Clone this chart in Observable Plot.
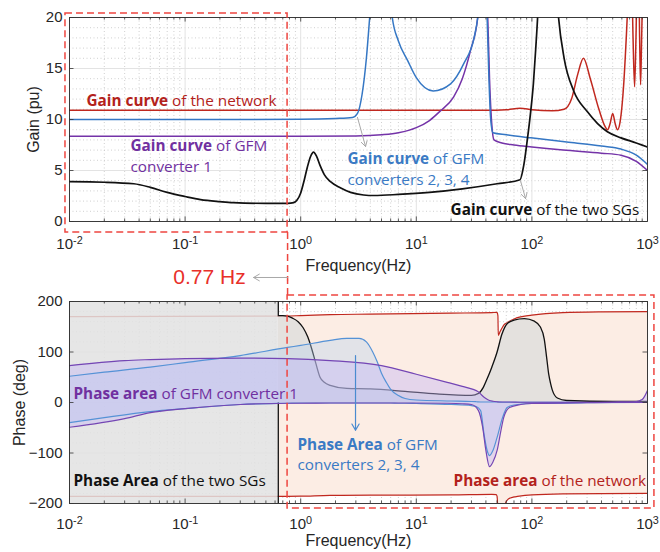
<!DOCTYPE html>
<html><head><meta charset="utf-8">
<script src="https://cdn.jsdelivr.net/npm/d3@7"></script>
<script src="https://cdn.jsdelivr.net/npm/@observablehq/plot@0.6"></script>
<style>
body{margin:0;background:#fff;}
#wrap{position:relative;width:660px;height:552px;overflow:hidden;background:#fff;}
#top,#bot{position:absolute;left:0;}
#top{top:0}
#bot{top:280px}
</style></head><body><div id="wrap"><div id="top"></div><div id="bot"></div></div>
<script>
// ---------- tick labels ----------
const decades = [0.01, 0.1, 1, 10, 100, 1000];
const decadeLabels = ["10^-2", "10^-1", "10^0", "10^1", "10^2", "10^3"];
const gainTicks = [0, 5, 10, 15, 20];
const phaseTicks = [-200, -100, 0, 100, 200];

// ---------- Gain (pu) curves: [frequency Hz, gain] ----------
const gainNetwork = [[0.01,10.9],[1,10.9],[10,10.9],[40,10.9],[60,10.95],[79,11.1],[100,10.95],[150,10.85],[190,11.0],[220,12.0],[250,14.5],[279,16.0],[320,14.0],[380,11.0],[430,9.3],[451,9.0],[475,9.6],[500,10.6],[525,9.6],[550,9.0],[580,9.8],[623,13.5],[655,18],[680,22],[700,26],[730,24],[750,18],[773,13.2],[795,18],[815,24],[840,24],[855,18],[871,13.4],[890,18],[915,24],[1000,26]];
const gainGFM234 = [[0.01,10.0],[0.1,10.0],[1,10.02],[2,10.1],[2.8,10.2],[3.1,10.6],[3.4,12.5],[3.7,16],[3.95,20],[4.2,24],[5.8,24],[6.2,20],[7,17.7],[8.4,15.8],[10,14.1],[14,12.8],[19.8,13.5],[25.8,15.5],[31.6,18],[34,20],[36,23],[40,23],[41,20],[42.5,14],[44,10],[46,8.7],[60,8.5],[98,8.2],[200,7.8],[400,7.4],[590,7.1],[800,6.5],[1000,5.6]];
const gainGFM1 = [[0.01,8.35],[1,8.35],[3,8.38],[5,8.5],[7,8.7],[10,9.2],[13,9.9],[16,10.8],[21,12.2],[25,14],[29.5,16.8],[34,20],[36,23],[40,23],[41.5,20],[43,14],[45,9.5],[47,8.0],[55,7.7],[70,7.5],[100,7.3],[186,7.0],[400,6.7],[590,6.5],[800,5.9],[1000,5.0]];
const gainSGs = [[0.01,3.9],[0.02,3.85],[0.036,3.7],[0.05,3.35],[0.07,2.85],[0.1,2.45],[0.136,2.15],[0.2,1.95],[0.26,1.85],[0.5,1.78],[0.77,1.78],[0.87,1.85],[0.93,2.1],[1.0,2.8],[1.07,4.0],[1.14,5.3],[1.22,6.4],[1.29,6.8],[1.37,6.4],[1.47,5.5],[1.6,4.6],[1.81,3.9],[2.2,3.3],[2.7,2.85],[3.5,2.6],[4.3,2.55],[7,2.65],[13,2.85],[25,3.2],[50,3.7],[79,4.1],[85,5.5],[91,7.9],[97,10.5],[103,13.5],[108,17],[112,20],[116,24],[160,24],[170,20],[190,16],[230,12.8],[300,10.8],[370,9.6],[450,8.8],[590,8.2],[800,7.7],[1000,7.3]];

// ---------- Phase (deg) areas ----------
const netF  = [0.01,0.64,1,1.8,4,20,45,49,50,50.8,51.2,53,56,58,59,62,65,70,75,100,185,400,1000];
const netHi = [170,171,172,174,175,177,178,178.5,178,172,133,140,150,155,156,159,162,165,168,173,178,179.5,180];
const netLo = [-186,-186,-185.5,-184,-183.5,-183,-182,-182.5,-186,-215,-225,-225,-225,-215,-200,-192,-189,-187,-186,-183,-181,-180.5,-180];

const sgWrapF = 0.64; // below this the SG phase area covers the whole range
const sgF = [0.64,0.7,0.77,0.85,0.95,1.05,1.15,1.25,1.35,1.47,1.6,1.8,2.5,4,8,15,30,34.5,38,41,45,50,55,61,70,86,105,118,128,134,140,145,150,166,200,500,1000];
const sgP = [172,172,171,167,160,148,130,105,78,50,40,34,28,27,22,17,14,18,30,47,70,100,135,156,163,166,161,150,125,90,55,38,25,9,4,2,2];

const gfm234F  = [0.01,0.02,0.05,0.1,0.3,0.77,1,1.8,2.5,3.2,3.7,4.2,4.6,5,5.5,6,7,8,10,20,30,33,36,38.5,41,43,46,50,55.7,61,70,100,300,1000];
const gfm234Hi = [52,60,70,79,93,109,113,123,127,127,120,100,80,58,40,26,14,8,5,3,2,1.5,1,1,1,1,1,1,0.5,0.5,0.5,0.5,0,0];
const gfm234Lo = [-40,-30,-18,-12,-4,-1.5,-1,-1,-1,-1,-1,-1,-1,-1,-1,-1,-1.5,-1.5,-2,-4,-6,-8,-16,-62,-95,-105,-95,-69,-30,-10,-5,-2,-0.5,0];

const gfm1F  = [0.01,0.03,0.05,0.1,0.3,0.77,1.8,5,10,18.5,25,30,34.5,37.5,40,43,46,50,54,57,64,80,100,300,500,800,900,1000];
const gfm1Hi = [73,83,85,87,88,87,83,73,56,40,32,27,21,13,8,4,2.5,1.5,1,1,1,0.5,0.5,0.5,1,2,6,24];
const gfm1Lo = [-49,-32,-20,-12,-4,-1.5,-1,-1,-1,-1.5,-2.5,-4,-16,-49,-95,-127,-118,-95,-55,-30,-10,-4,-2,-0.5,0,0,0,0];

// ---------- colours ----------
const cNet = "#c0281f", cBlue = "#3577c4", cPurple = "#7433a8", cSG = "#111111";
const cBox = "#ee4640";

// ---------- derived tables ----------
const pairs = a => a.map(([f, v]) => ({f, v}));
const zip3 = (F, H, L) => F.map((f, i) => ({f, hi: H[i], lo: L[i]}));
const netData = zip3(netF, netHi, netLo);
const sgData = sgF.map((f, i) => ({f, p: sgP[i]}));
const b234 = zip3(gfm234F, gfm234Hi, gfm234Lo);
const b1 = zip3(gfm1F, gfm1Hi, gfm1Lo);

const minorF = [];
for (const d of decades.slice(0, -1)) for (let k = 2; k <= 9; k++) minorF.push(+(d * k).toPrecision(3));
const gainMinor = d3.range(1, 20).filter(v => v % 5);
const phaseMinor = d3.range(-180, 200, 20).filter(v => v % 100);

const annFont = "'Open Sans', sans-serif";
const annSize = 15.3;
const axisFont = "'Liberation Sans', Arial, sans-serif";

function grid(minorY, majorY) {
  return [
    Plot.ruleX(minorF, {stroke: "#c4c4c4", strokeDasharray: "1,2.5", strokeWidth: 0.8}),
    Plot.ruleY(minorY, {stroke: "#c4c4c4", strokeDasharray: "1,2.5", strokeWidth: 0.8}),
    Plot.ruleX(decades.slice(1, -1), {stroke: "#e3e3e3", strokeWidth: 1}),
    Plot.ruleY(majorY.slice(1, -1), {stroke: "#e3e3e3", strokeWidth: 1})
  ];
}
function ticks(yTicks, y0, y1, major, minor) {
  const dx = Math.pow(10, 4.5 / 115.6);
  return [
    Plot.ruleX(decades, {y1: y0, y2: y0 + major, stroke: "#333", strokeWidth: 0.8}),
    Plot.ruleX(minorF, {y1: y0, y2: y0 + minor, stroke: "#333", strokeWidth: 0.8}),
    Plot.ruleX(decades, {y1: y1, y2: y1 - major, stroke: "#333", strokeWidth: 0.8}),
    Plot.ruleX(minorF, {y1: y1, y2: y1 - minor, stroke: "#333", strokeWidth: 0.8}),
    Plot.ruleY(yTicks, {x1: 0.01, x2: 0.01 * dx, stroke: "#333", strokeWidth: 0.8}),
    Plot.ruleY(yTicks, {x1: 1000, x2: 1000 / dx, stroke: "#333", strokeWidth: 0.8})
  ];
}
function label(spec) {
  return Plot.text([spec], {x: "x", y: "y", text: "t", fill: spec.c, textAnchor: "start",
    fontFamily: annFont, fontSize: annSize, lineHeight: 1.33});
}

const common = {
  width: 660,
  marginLeft: 69, marginRight: 13,
  style: {fontFamily: axisFont, fontSize: "15px", background: "transparent", overflow: "visible", color: "#262626"},
  x: {type: "log", domain: [0.01, 1000]}
};

// ---------- top: gain ----------
const topChart = Plot.plot({
  ...common,
  height: 280, marginTop: 17, marginBottom: 59,
  y: {domain: [0, 20]},
  marks: [
    ...grid(gainMinor, gainTicks),
    Plot.line(pairs(gainNetwork), {x: "f", y: "v", stroke: cNet, strokeWidth: 1.5, curve: "monotone-x", clip: true}),
    Plot.line(pairs(gainGFM1), {x: "f", y: "v", stroke: cPurple, strokeWidth: 1.5, curve: "monotone-x", clip: true}),
    Plot.line(pairs(gainGFM234), {x: "f", y: "v", stroke: cBlue, strokeWidth: 1.5, curve: "monotone-x", clip: true}),
    Plot.line(pairs(gainSGs), {x: "f", y: "v", stroke: cSG, strokeWidth: 1.7, curve: "monotone-x", clip: true}),
    Plot.frame({stroke: "#262626", strokeWidth: 0.9}),
    ...ticks(gainTicks, 0, 20, 0.45, 0.25),
    Plot.axisX(decades, {tickFormat: d => decadeLabels[decades.indexOf(d)], tickSize: 0, tickPadding: 17,
      label: null, fontSize: 15}),
    Plot.axisY(gainTicks, {tickSize: 0, tickPadding: 7, label: null, fontSize: 15}),
    Plot.text([{t: "Frequency(Hz)"}], {x: () => Math.sqrt(0.01 * 1000), y: () => 0, text: "t",
      dy: 44, fontSize: 16, fill: "#262626"}),
    Plot.text([{t: "Gain (pu)"}], {x: () => 0.01, y: () => 10, text: "t", dx: -36, rotate: -90, fontSize: 16, fill: "#262626"}),
    label({x: 0.01403, y: 11.96, t: "Gain curve|of the network", c: "#b3221b"}),
    label({x: 0.0337, y: 6.52, t: "Gain curve|of GFM\nconverter 1", c: "#7030a0"}),
    label({x: 2.54, y: 5.25, t: "Gain curve|of GFM\nconverters 2, 3, 4", c: "#3a7ac4"}),
    label({x: 19.8, y: 1.27, t: "Gain curve|of the two SGs", c: "#111"}),
    Plot.arrow([{x1: 3.10, y1: 10.2, x2: 3.64, y2: 7.35}, {x1: 79.6, y1: 4.02, x2: 88.1, y2: 2.25}],
      {x1: "x1", y1: "y1", x2: "x2", y2: "y2", stroke: "#a8a8a8", strokeWidth: 1, headLength: 9}),
    // highlighted low-frequency window and its 0.77 Hz boundary
    Plot.rect([{x1: 0.00923, x2: 0.77, y1: -1.08, y2: 20.4}], {x1: "x1", x2: "x2", y1: "y1", y2: "y2",
      fill: "none", stroke: cBox, strokeWidth: 1.5, strokeDasharray: "7,4"}),
    Plot.ruleX([{x: 0.77, y1: -1.08, y2: -5.8}], {x: "x", y1: "y1", y2: "y2", stroke: cBox, strokeWidth: 1.5, strokeDasharray: "7,4"}),
    Plot.arrow([{x1: 0.77, y1: -5.49, x2: 0.391, y2: -5.49}], {x1: "x1", y1: "y1", x2: "x2", y2: "y2",
      stroke: "#a8a8a8", strokeWidth: 1, headLength: 10}),
    Plot.text([{x: 0.1626, y: -5.49, t: "0.77 Hz"}], {x: "x", y: "y", text: "t", fill: "#e8302a",
      fontSize: 21, fontFamily: axisFont})
  ]
});

// ---------- bottom: phase ----------
const botChart = Plot.plot({
  ...common,
  height: 272, marginTop: 21, marginBottom: 49,
  y: {domain: [-200, 200]},
  marks: [
    ...grid(phaseMinor, phaseTicks),
    Plot.areaY(netData.filter(d => d.f >= sgWrapF), {x: "f", y1: "lo", y2: "hi", fill: "#fcede4", curve: "monotone-x", clip: true}),
    Plot.line(netData, {x: "f", y: "hi", stroke: cNet, strokeWidth: 1.2, curve: "monotone-x", clip: true}),
    Plot.line(netData, {x: "f", y: "lo", stroke: cNet, strokeWidth: 1.2, curve: "monotone-x", clip: true}),
    Plot.rect([{x1: 0.01, x2: sgWrapF, y1: -200, y2: 200}], {x1: "x1", x2: "x2", y1: "y1", y2: "y2", fill: "#e2e2e2", fillOpacity: 0.85}),
    Plot.areaY(sgData, {x: "f", y1: 0, y2: "p", fill: "#dcdcdc", fillOpacity: 0.75, curve: "monotone-x", clip: true}),
    Plot.line(sgData, {x: "f", y: "p", stroke: cSG, strokeWidth: 1.3, curve: "monotone-x", clip: true}),
    Plot.ruleX([{x: sgWrapF, y1: sgP[0], y2: 200}, {x: sgWrapF, y1: -200, y2: 0}], {x: "x", y1: "y1", y2: "y2", stroke: cSG, strokeWidth: 1.3}),
    Plot.areaY(b234, {x: "f", y1: "lo", y2: "hi", fill: "#b8d1ef", fillOpacity: 0.38, curve: "monotone-x", clip: true}),
    Plot.areaY(b1, {x: "f", y1: "lo", y2: "hi", fill: "#c4b6f6", fillOpacity: 0.42, curve: "monotone-x", clip: true}),
    Plot.line(b234, {x: "f", y: "hi", stroke: "#5592d6", strokeWidth: 1.2, curve: "monotone-x", clip: true}),
    Plot.line(b234, {x: "f", y: "lo", stroke: "#5592d6", strokeWidth: 1.2, curve: "monotone-x", clip: true}),
    Plot.line(b1, {x: "f", y: "hi", stroke: "#7446b4", strokeWidth: 1.2, curve: "monotone-x", clip: true}),
    Plot.line(b1, {x: "f", y: "lo", stroke: "#7446b4", strokeWidth: 1.2, curve: "monotone-x", clip: true}),
    Plot.frame({stroke: "#262626", strokeWidth: 0.9}),
    ...ticks(phaseTicks, -200, 200, 8.9, 5),
    Plot.axisX(decades, {tickFormat: d => decadeLabels[decades.indexOf(d)], tickSize: 0, tickPadding: 15,
      label: null, fontSize: 15}),
    Plot.axisY(phaseTicks, {tickSize: 0, tickPadding: 7, label: null, fontSize: 15}),
    Plot.text([{t: "Frequency(Hz)"}], {x: () => Math.sqrt(0.01 * 1000), y: () => -200, text: "t",
      dy: 37, fontSize: 16, fill: "#262626"}),
    Plot.text([{t: "Phase (deg)"}], {x: () => 0.01, y: () => 0, text: "t", dx: -50, rotate: -90, fontSize: 16, fill: "#262626"}),
    label({x: 0.01083, y: 19.8, t: "Phase area|of GFM converter 1", c: "#7030a0"}),
    label({x: 0.938, y: -101, t: "Phase Area|of GFM\nconverters 2, 3, 4", c: "#3a7ac4"}),
    label({x: 0.01083, y: -152.5, t: "Phase Area|of the two SGs", c: "#111"}),
    label({x: 21.0, y: -152.5, t: "Phase area|of the network", c: "#b3221b"}),
    Plot.arrow([{x1: 2.98, y1: 93, x2: 2.98, y2: -55}], {x1: "x1", y1: "y1", x2: "x2", y2: "y2",
      stroke: "#4a8bd0", strokeWidth: 1.2, headLength: 9}),
    Plot.rect([{x1: 0.77, x2: 1148, y1: -210, y2: 212}], {x1: "x1", x2: "x2", y1: "y1", y2: "y2",
      fill: "none", stroke: cBox, strokeWidth: 1.5, strokeDasharray: "7,4"}),
    Plot.ruleX([{x: 0.77, y1: 212, y2: 242}], {x: "x", y1: "y1", y2: "y2", stroke: cBox, strokeWidth: 1.5, strokeDasharray: "7,4"})
  ]
});

function enhance(svg) {
  const NS = "http://www.w3.org/2000/svg";
  svg.querySelectorAll("text, tspan").forEach(el => {
    if (el.childElementCount) return;
    const t = el.textContent;
    if (t.includes("|")) {
      const [a, b] = t.split("|");
      el.textContent = "";
      const s = document.createElementNS(NS, "tspan");
      s.setAttribute("font-weight", "bold");
      s.textContent = a;
      el.appendChild(s);
      el.appendChild(document.createTextNode(" " + b));
    } else if (t.includes("^")) {
      const [a, b] = t.split("^");
      el.textContent = a;
      const s = document.createElementNS(NS, "tspan");
      s.setAttribute("dy", "-0.5em");
      s.setAttribute("font-size", "0.72em");
      s.textContent = b;
      el.appendChild(s);
    }
  });
}
enhance(topChart);
enhance(botChart);
document.getElementById("top").appendChild(topChart);
document.getElementById("bot").appendChild(botChart);
</script>
</body></html>
